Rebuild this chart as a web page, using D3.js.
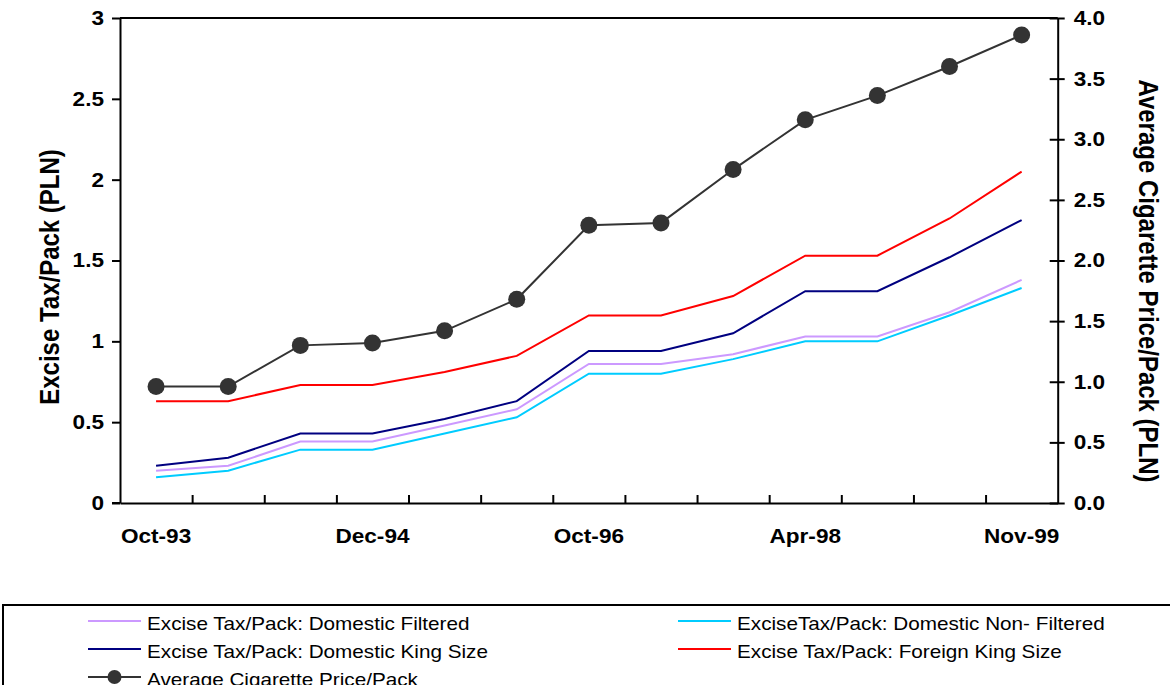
<!DOCTYPE html>
<html>
<head>
<meta charset="utf-8">
<script src="https://cdn.jsdelivr.net/npm/d3@7/dist/d3.min.js"></script>
<style>
  html, body { margin: 0; padding: 0; background: #fff; }
  svg { display: block; }
  .axis text { font-family: "Liberation Sans", Arial, sans-serif; font-weight: bold; font-size: 20px; fill: #000; }
  .axis path, .axis line { stroke: #000; stroke-width: 2; }
  .title { font-family: "Liberation Sans", Arial, sans-serif; font-weight: bold; font-size: 24px; fill: #000; }
  .legend text { font-family: "Liberation Sans", Arial, sans-serif; font-size: 18px; fill: #000; }
</style>
</head>
<body>
<svg id="chart" width="1170" height="685"></svg>
<script>
// Observation index (13 readings, Oct-93 to Nov-99); only every third is labelled
const periods = d3.range(13);
const periodLabels = ["Oct-93", "", "", "Dec-94", "", "", "Oct-96", "", "", "Apr-98", "", "", "Nov-99"];

// Excise tax per pack (PLN), left axis
const domesticFiltered    = [0.20, 0.23, 0.38, 0.38, 0.48, 0.58, 0.86, 0.86, 0.92, 1.03, 1.03, 1.18, 1.38];
const domesticNonFiltered = [0.16, 0.20, 0.33, 0.33, 0.43, 0.53, 0.80, 0.80, 0.89, 1.00, 1.00, 1.16, 1.33];
const domesticKingSize    = [0.23, 0.28, 0.43, 0.43, 0.52, 0.63, 0.94, 0.94, 1.05, 1.31, 1.31, 1.52, 1.75];
const foreignKingSize     = [0.63, 0.63, 0.73, 0.73, 0.81, 0.91, 1.16, 1.16, 1.28, 1.53, 1.53, 1.76, 2.05];

// Average cigarette price per pack (PLN), right axis
const avgPrice            = [0.96, 0.96, 1.30, 1.32, 1.42, 1.68, 2.29, 2.31, 2.75, 3.16, 3.36, 3.60, 3.86];

const leftTicks  = [0, 0.5, 1, 1.5, 2, 2.5, 3];
const rightTicks = [0, 0.5, 1, 1.5, 2, 2.5, 3, 3.5, 4];

const svg = d3.select("#chart");

// Text in this chart is set slightly wide
const WIDE = 1.13;

const plot = { left: 120, right: 1057.7, top: 18, bottom: 503 };

const x = d3.scaleBand().domain(periods).range([plot.left, plot.right]).paddingInner(0).paddingOuter(0);
const xEdge = d3.scaleLinear().domain([0, periods.length]).range([plot.left, plot.right]);
const yL = d3.scaleLinear().domain([0, 3]).range([plot.bottom, plot.top]);
const yR = d3.scaleLinear().domain([0, 4]).range([plot.bottom, plot.top]);
const cx = i => x(i) + x.bandwidth() / 2;

function widenTicks(g) {
  g.selectAll(".tick text").each(function () {
    const t = d3.select(this);
    const tx = +t.attr("x") || 0;
    t.attr("x", tx / WIDE).attr("transform", `scale(${WIDE},1)`);
  });
}

// Top border of the plot area
svg.append("line")
  .attr("x1", plot.left).attr("x2", plot.right)
  .attr("y1", plot.top).attr("y2", plot.top)
  .attr("stroke", "#000").attr("stroke-width", 2);

// Left axis
const gL = svg.append("g").attr("class", "axis")
  .attr("transform", `translate(${plot.left},0)`)
  .call(d3.axisLeft(yL).tickValues(leftTicks).tickSizeInner(8).tickSizeOuter(0).tickPadding(8).tickFormat(d => String(d)));
widenTicks(gL);

// Right axis with crossing ticks
const gR = svg.append("g").attr("class", "axis")
  .attr("transform", `translate(${plot.right},0)`)
  .call(d3.axisRight(yR).tickValues(rightTicks).tickSizeInner(7).tickSizeOuter(0).tickPadding(9).tickFormat(d3.format(".1f")));
gR.selectAll(".tick line").attr("x1", -8).attr("x2", 7);
widenTicks(gR);

// Bottom axis: ticks between periods, pointing into the plot
svg.append("g").attr("class", "axis")
  .attr("transform", `translate(0,${plot.bottom})`)
  .call(d3.axisBottom(xEdge).tickValues(d3.range(1, periods.length)).tickSizeInner(-8).tickSizeOuter(0).tickFormat(""));
// extend baseline to meet left tick at zero
svg.append("line")
  .attr("x1", plot.left - 8).attr("x2", plot.left)
  .attr("y1", plot.bottom).attr("y2", plot.bottom)
  .attr("stroke", "#000").attr("stroke-width", 2);

// Period labels centred under each band
const gB = svg.append("g").attr("class", "axis")
  .attr("transform", `translate(0,${plot.bottom})`)
  .call(d3.axisBottom(x).tickSize(0).tickPadding(26).tickFormat(i => periodLabels[i]));
gB.select(".domain").remove();
widenTicks(gB);

// Axis titles
svg.append("text").attr("class", "title")
  .attr("transform", `translate(59,277) rotate(-90) scale(1,1.13)`)
  .attr("text-anchor", "middle")
  .text("Excise Tax/Pack (PLN)");
svg.append("text").attr("class", "title")
  .attr("transform", `translate(1139,281) rotate(90) scale(1,1.13)`)
  .attr("text-anchor", "middle")
  .text("Average Cigarette Price/Pack (PLN)");

// Series
const series = [
  { name: "Excise Tax/Pack: Domestic Filtered",      values: domesticFiltered,    color: "#CC99FF", y: yL },
  { name: "ExciseTax/Pack: Domestic Non- Filtered",  values: domesticNonFiltered, color: "#00CCFF", y: yL },
  { name: "Excise Tax/Pack: Domestic King Size",     values: domesticKingSize,    color: "#000080", y: yL },
  { name: "Excise Tax/Pack: Foreign King Size",      values: foreignKingSize,     color: "#FF0000", y: yL },
  { name: "Average Cigarette Price/Pack",            values: avgPrice,            color: "#333333", y: yR, marker: true }
];

series.forEach(s => {
  const line = d3.line().x((d, i) => cx(i)).y(d => s.y(d));
  svg.append("path")
    .attr("d", line(s.values))
    .attr("fill", "none")
    .attr("stroke", s.color)
    .attr("stroke-width", 2);
  if (s.marker) {
    svg.append("g").selectAll("circle")
      .data(s.values)
      .join("circle")
      .attr("cx", (d, i) => cx(i))
      .attr("cy", d => s.y(d))
      .attr("r", 8.5)
      .attr("fill", s.color);
  }
});

// Legend
const legend = svg.append("g").attr("class", "legend");
legend.append("rect")
  .attr("x", 3).attr("y", 605).attr("width", 1180).attr("height", 120)
  .attr("fill", "#fff").attr("stroke", "#000").attr("stroke-width", 2);

const legendSlots = [
  { s: series[0], col: 0, row: 0 },
  { s: series[1], col: 1, row: 0 },
  { s: series[2], col: 0, row: 1 },
  { s: series[3], col: 1, row: 1 },
  { s: series[4], col: 0, row: 2 }
];
const colX = [88, 678];
legendSlots.forEach(({ s, col, row }) => {
  const lx = colX[col];
  const ly = 621 + row * 28;
  legend.append("line")
    .attr("x1", lx).attr("x2", lx + 53)
    .attr("y1", ly).attr("y2", ly)
    .attr("stroke", s.color).attr("stroke-width", 2);
  if (s.marker) {
    legend.append("circle").attr("cx", lx + 26.5).attr("cy", ly).attr("r", 7).attr("fill", s.color);
  }
  legend.append("text")
    .attr("transform", `translate(${lx + 59},${ly + 9}) scale(1.15,1)`)
    .text(s.name);
});
</script>
</body>
</html>
